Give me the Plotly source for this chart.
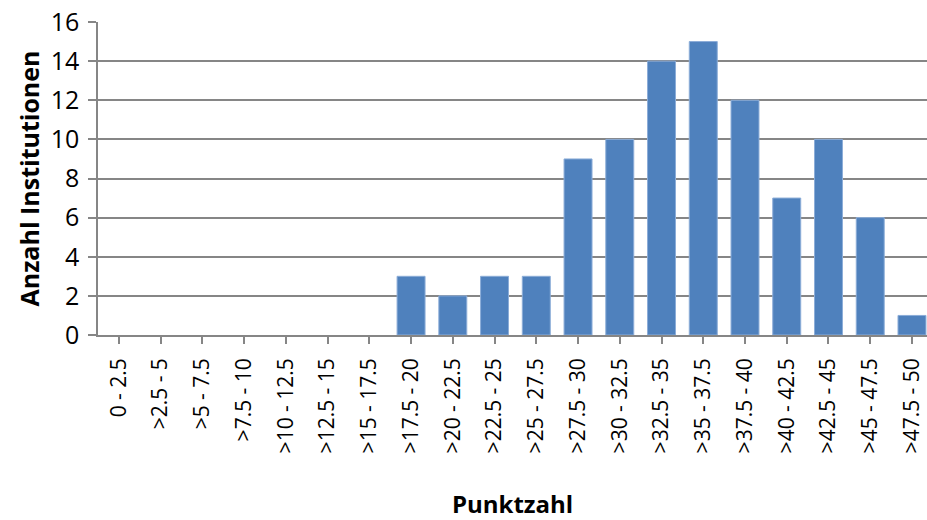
import plotly.graph_objects as go

categories = ["0 - 2.5", ">2.5 - 5", ">5 - 7.5", ">7.5 - 10", ">10 - 12.5", ">12.5 - 15",
              ">15 - 17.5", ">17.5 - 20", ">20 - 22.5", ">22.5 - 25", ">25 - 27.5",
              ">27.5 - 30", ">30 - 32.5", ">32.5 - 35", ">35 - 37.5", ">37.5 - 40",
              ">40 - 42.5", ">42.5 - 45", ">45 - 47.5", ">47.5 - 50"]
counts = [0, 0, 0, 0, 0, 0, 0, 3, 2, 3, 3, 9, 10, 14, 15, 12, 7, 10, 6, 1]
y_ticks = [0, 2, 4, 6, 8, 10, 12, 14, 16]

font_family = "Open Sans, Noto Sans, DejaVu Sans, sans-serif"

fig = go.Figure(go.Bar(
    x=list(range(len(categories))), y=counts,
    marker=dict(color="#4F81BD",
                line=dict(color="#8CADD8", width=[1 if c > 0 else 0 for c in counts])),
    width=0.67,
))

fig.update_layout(
    width=927, height=520,
    margin=dict(l=98, r=0, t=22, b=185, autoexpand=False),
    plot_bgcolor="white", paper_bgcolor="white",
    showlegend=False,
    font=dict(family=font_family, color="black", size=20),
)
fig.update_xaxes(
    tickmode="array", tickvals=list(range(len(categories))), ticktext=categories,
    range=[-0.5, 19.36], tickangle=-90,
    showline=True, linecolor="#868686", linewidth=1.5,
    ticks="outside", ticklen=7, tickcolor="#868686", tickwidth=1.5,
    showgrid=False, zeroline=False, tickson="boundaries",
    tickfont=dict(size=21), ticklabelstandoff=6,
    title=dict(text="<b>Punktzahl</b>", font=dict(size=24), standoff=46),
    automargin=False,
)
fig.update_yaxes(
    range=[0, 16], tickvals=y_ticks,
    showline=True, linecolor="#868686", linewidth=1.5,
    ticks="outside", ticklen=8, tickcolor="#868686", tickwidth=1.5,
    showgrid=True, gridcolor="#868686", gridwidth=1.5,
    zeroline=False,
    tickfont=dict(size=25), ticklabelstandoff=4,
    title=dict(text="<b>Anzahl Institutionen</b>", font=dict(size=25), standoff=4),
    automargin=False,
)

fig.write_html("out.html", config={"displayModeBar": False},
               post_script="document.body.style.margin='0';")
